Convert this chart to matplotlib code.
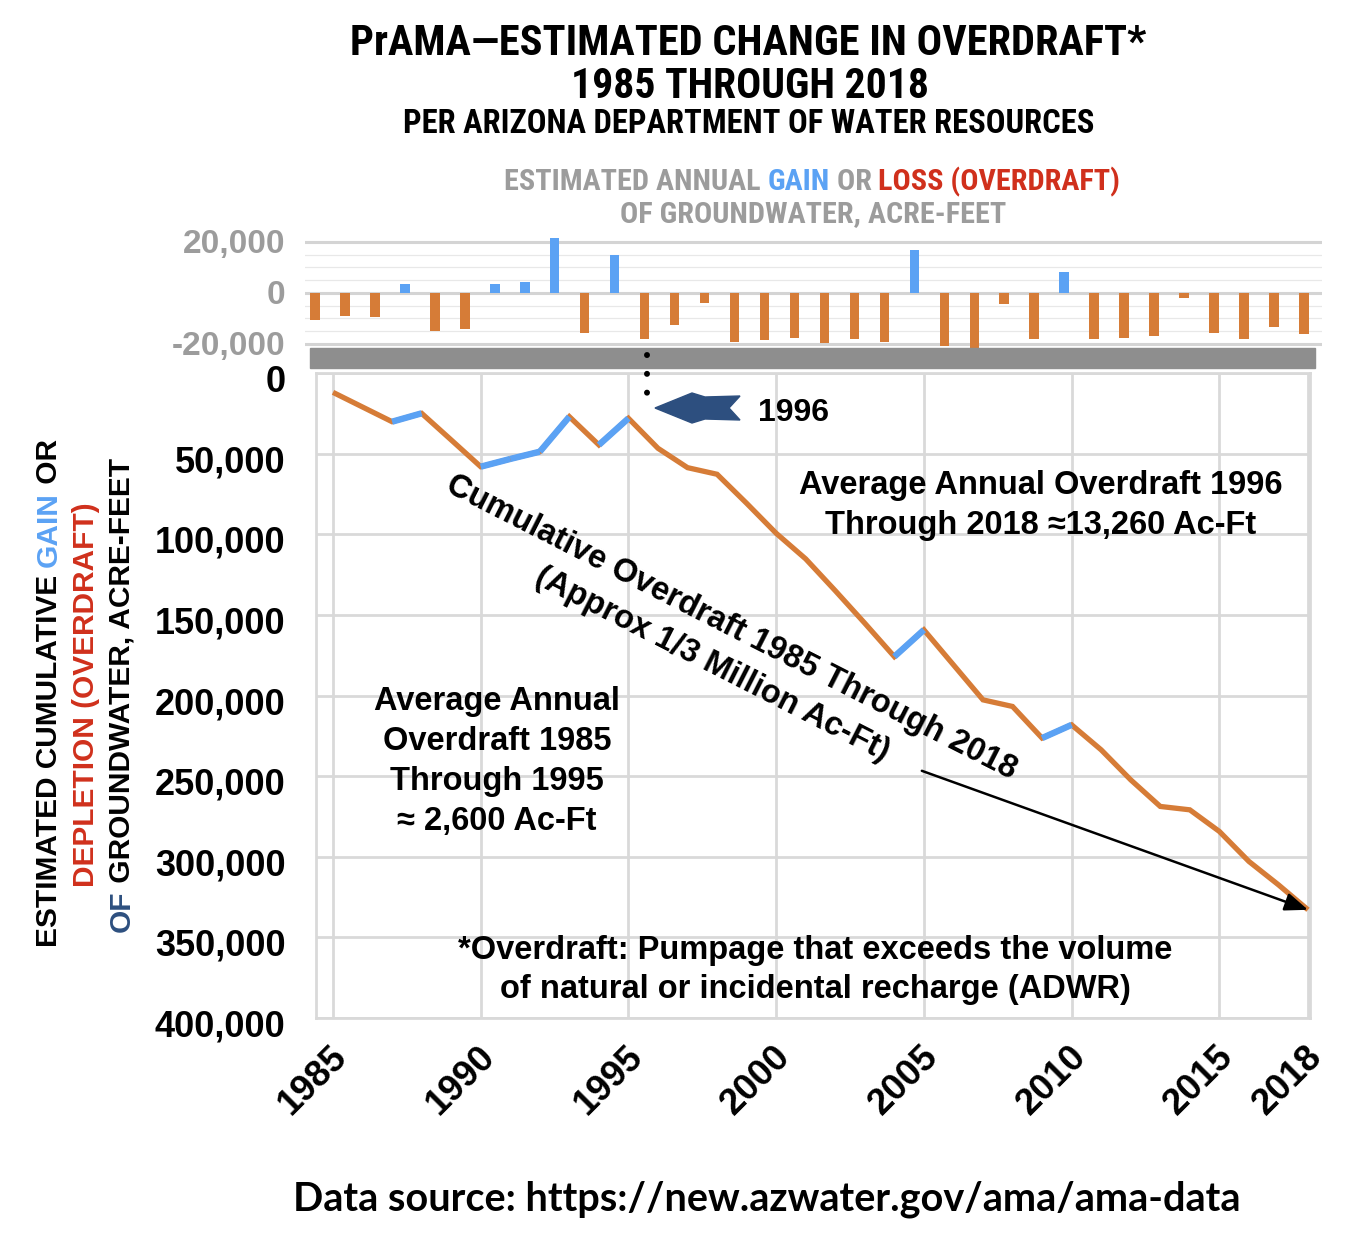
import matplotlib
matplotlib.use("Agg")
import matplotlib.pyplot as plt
from matplotlib import font_manager
from matplotlib.patches import Rectangle, Polygon
from matplotlib.lines import Line2D
from matplotlib.ticker import MultipleLocator
from matplotlib.transforms import ScaledTranslation

# ---------------- data ----------------
years = list(range(1985, 2019))
annual_change = [-10700, -9000, -9500, 3400, -14900, -14000, 3400, 4300, 21700, -15700,
                 15000, -18000, -12400, -3800, -19100, -18400, -17500, -19500, -18000, -19100,
                 16700, -20900, -21800, -4300, -17900, 8200, -17900, -17500, -16700, -1800,
                 -15700, -18000, -13300, -15900]
cumulative_depletion = [12000, 21100, 30200, 25000, 41500, 58100, 53300, 48800, 27100, 44600,
                        28100, 46700, 58700, 62800, 80800, 99400, 115300, 135000, 155200, 175900,
                        159300, 181000, 202700, 206800, 226400, 218200, 233700, 252300, 268800, 270900,
                        284300, 302900, 317400, 332900]
line_xticks = [1985, 1990, 1995, 2000, 2005, 2010, 2015, 2018]
line_yticks = [0, 50000, 100000, 150000, 200000, 250000, 300000, 350000, 400000]
bar_yticks = [-20000, 0, 20000]

ORANGE = "#D67C37"
BLUE = "#5BA2F4"
RED = "#D0301C"
GRAY_TXT = "#9C9C9C"
NAVY = "#2D4F7F"
GRID = "#D9D9D9"


def avail(names):
    for n in names:
        try:
            font_manager.findfont(font_manager.FontProperties(family=n), fallback_to_default=False)
            return n
        except Exception:
            pass
    return "DejaVu Sans"


SANS = avail(["Liberation Sans", "Arial", "DejaVu Sans"])
NARROW = avail(["Liberation Sans Narrow", "Roboto Condensed", "Liberation Sans"])
SRC = avail(["Lato", "Open Sans", "Liberation Sans"])

W, H = 1358, 1240
fig = plt.figure(figsize=(W / 100, H / 100), dpi=100)


def fx(x):
    return x / W


def fy(y):
    return 1 - y / H


# ---------------- top bar chart ----------------
axb = fig.add_axes([fx(305), fy(348.8), (1322 - 305) / W, (348.8 - 235.6) / H])
bar_colors = [BLUE if v > 0 else ORANGE for v in annual_change]
axb.bar(years, annual_change, width=0.32, color=bar_colors, zorder=3)
axb.set_xlim(1984.67, 2018.6)
axb.set_ylim(-21900, 22500)
axb.set_yticks(bar_yticks)
axb.set_yticklabels([f"{v:,}" for v in bar_yticks])
axb.yaxis.set_minor_locator(MultipleLocator(5000))
axb.set_xticks([])
axb.grid(which="minor", axis="y", color="#E8E8E8", lw=0.9)
axb.grid(which="major", axis="y", color="#D4D4D4", lw=2.2)
axb.set_axisbelow(True)
for s in axb.spines.values():
    s.set_visible(False)
axb.tick_params(axis="y", which="both", length=0, pad=14)
up = ScaledTranslation(0, 1 / 100, fig.dpi_scale_trans)
for lab in axb.get_yticklabels():
    lab.set_fontfamily(SANS)
    lab.set_fontweight("bold")
    lab.set_fontsize(24)
    lab.set_color(GRAY_TXT)
    lab.set_transform(lab.get_transform() + up)

# ---------------- main line chart ----------------
axl = fig.add_axes([fx(316), fy(1018), (1310 - 316) / W, (1018 - 373) / H])
axl.set_xlim(1984.425, 2018.068)
axl.set_ylim(400000, 0)
axl.plot(years, cumulative_depletion, color=ORANGE, lw=3.8, zorder=3,
         solid_joinstyle="miter", solid_capstyle="butt")
for i in range(len(years) - 1):
    if annual_change[i + 1] > 0:
        axl.plot(years[i:i + 2], cumulative_depletion[i:i + 2], color=BLUE, lw=4.6,
                 zorder=4, solid_capstyle="butt")
axl.set_xticks(line_xticks)
axl.set_xticklabels([str(v) for v in line_xticks])
axl.set_yticks(line_yticks)
axl.set_yticklabels([f"{v:,}" for v in line_yticks])
axl.grid(True, color=GRID, lw=2.0)
axl.set_axisbelow(True)
for s in axl.spines.values():
    s.set_color(GRID)
    s.set_linewidth(2.0)
axl.tick_params(axis="both", length=0)
axl.tick_params(axis="y", pad=22)
axl.tick_params(axis="x", pad=24)
down = ScaledTranslation(0, -5 / 100, fig.dpi_scale_trans)
for lab in axl.get_yticklabels():
    lab.set_fontfamily(SANS)
    lab.set_fontweight("bold")
    lab.set_fontsize(26)
    lab.set_transform(lab.get_transform() + down)
shift = ScaledTranslation(9 / 100, 0, fig.dpi_scale_trans)
for lab in axl.get_xticklabels():
    lab.set_fontfamily(SANS)
    lab.set_fontweight("bold")
    lab.set_fontsize(26.5)
    lab.set_rotation(45)
    lab.set_ha("right")
    lab.set_va("center")
    lab.set_rotation_mode("anchor")
    lab.set_transform(lab.get_transform() + shift)

ann_kw = dict(fontfamily=SANS, fontweight="bold", fontsize=23.5, color="black")
axl.text(0.729, 0.795, "Average Annual Overdraft 1996\nThrough 2018 \u224813,260 Ac-Ft",
         transform=axl.transAxes, ha="center", va="center", multialignment="center",
         linespacing=1.37, **ann_kw)
axl.text(0.182, 0.398, "Average Annual\nOverdraft 1985\nThrough 1995\n\u2248 2,600 Ac-Ft",
         transform=axl.transAxes, ha="center", va="center", multialignment="center",
         linespacing=1.37, **ann_kw)
axl.text(0.502, 0.0745, "*Overdraft: Pumpage that exceeds the volume\nof natural or incidental recharge (ADWR)",
         transform=axl.transAxes, ha="center", va="center", multialignment="center",
         linespacing=1.37, **ann_kw)
axl.text(0.408, 0.5767, "Cumulative Overdraft 1985 Through 2018\n(Approx 1/3 Million Ac-Ft)",
         transform=axl.transAxes, ha="center", va="center", multialignment="center",
         rotation=-27, rotation_mode="anchor", linespacing=1.44, **ann_kw)

axl.annotate("", xy=(years[-1], cumulative_depletion[-1]), xytext=(2004.93, 246700),
             arrowprops=dict(arrowstyle="-|>,head_length=1.4,head_width=0.55", mutation_scale=10,
                             color="black", lw=1.8, shrinkA=0, shrinkB=0), zorder=6)

# ---------------- decorations ----------------
fig.add_artist(Rectangle((fx(310), fy(368)), (1315 - 310) / W, 20 / H,
                         transform=fig.transFigure, color="#8E8E8E", zorder=5))
fig.add_artist(Line2D([fx(646.7), fx(646.7)], [fy(355), fy(411)], transform=fig.transFigure,
                      color="black", lw=4.3, linestyle=(0, (0.01, 3.14)),
                      dash_capstyle="round", zorder=6))
arrow_pts = [(655, 408), (692, 393), (705, 397), (740, 396), (729, 408),
             (740, 420), (705, 419), (692, 423)]
fig.add_artist(Polygon([(fx(x), fy(y)) for x, y in arrow_pts], closed=True,
                       transform=fig.transFigure, color=NAVY, zorder=6))
fig.text(fx(758), fy(421), "1996", ha="left", va="baseline", fontfamily=SANS,
         fontweight="bold", fontsize=23)

# ---------------- titles ----------------
fig.text(fx(748), fy(55), "PrAMA\u2014ESTIMATED CHANGE IN OVERDRAFT*", ha="center", va="baseline",
         fontfamily=NARROW, fontweight="bold", fontsize=30.5)
fig.text(fx(750), fy(98), "1985 THROUGH 2018", ha="center", va="baseline",
         fontfamily=NARROW, fontweight="bold", fontsize=30)
fig.text(fx(749), fy(133), "PER ARIZONA DEPARTMENT OF WATER RESOURCES", ha="center", va="baseline",
         fontfamily=NARROW, fontweight="bold", fontsize=23.5)

fig.text(fx(767), fy(1210), "Data source: https://new.azwater.gov/ama/ama-data", ha="center",
         va="baseline", fontfamily=SRC, fontweight="bold", fontsize=28.5)

fig.canvas.draw()
renderer = fig.canvas.get_renderer()


def measure(s, **kw):
    t = fig.text(0, 0, s, **kw)
    w = t.get_window_extent(renderer).width
    t.remove()
    return w


def multicolor(pieces, cx, cy, vertical=False, **kw):
    full = "".join(p for p, _ in pieces)
    total = measure(full, **kw)
    ref = measure("I", **kw)
    start = -total / 2
    prefix = ""
    for p, c in pieces:
        off = (measure(prefix + "I", **kw) - ref) if prefix else 0.0
        if not vertical:
            fig.text(fx(cx + start + off), fy(cy), p, color=c, ha="left", va="baseline", **kw)
        else:
            fig.text(fx(cx), fy(cy - (start + off)), p, color=c, rotation=90,
                     rotation_mode="anchor", ha="left", va="baseline", **kw)
        prefix += p


sub_kw = dict(fontfamily=NARROW, fontweight="bold", fontsize=21.7)
multicolor([("ESTIMATED ANNUAL ", GRAY_TXT), ("GAIN", BLUE), (" OR ", GRAY_TXT),
            ("LOSS (OVERDRAFT)", RED)], 812, 190, **sub_kw)
multicolor([("OF GROUNDWATER, ACRE-FEET", GRAY_TXT)], 813, 222, **sub_kw)

yl_kw = dict(fontfamily=SANS, fontweight="bold", fontsize=21.5)
multicolor([("ESTIMATED CUMULATIVE ", "black"), ("GAIN", BLUE), (" OR", "black")],
           57, 693, vertical=True, **yl_kw)
multicolor([("DEPLETION (OVERDRAFT)", RED)], 94, 695, vertical=True, **yl_kw)
multicolor([("OF", NAVY), (" GROUNDWATER, ACRE-FEET", "black")], 130, 695, vertical=True, **yl_kw)

fig.savefig("out.png", dpi=100)
